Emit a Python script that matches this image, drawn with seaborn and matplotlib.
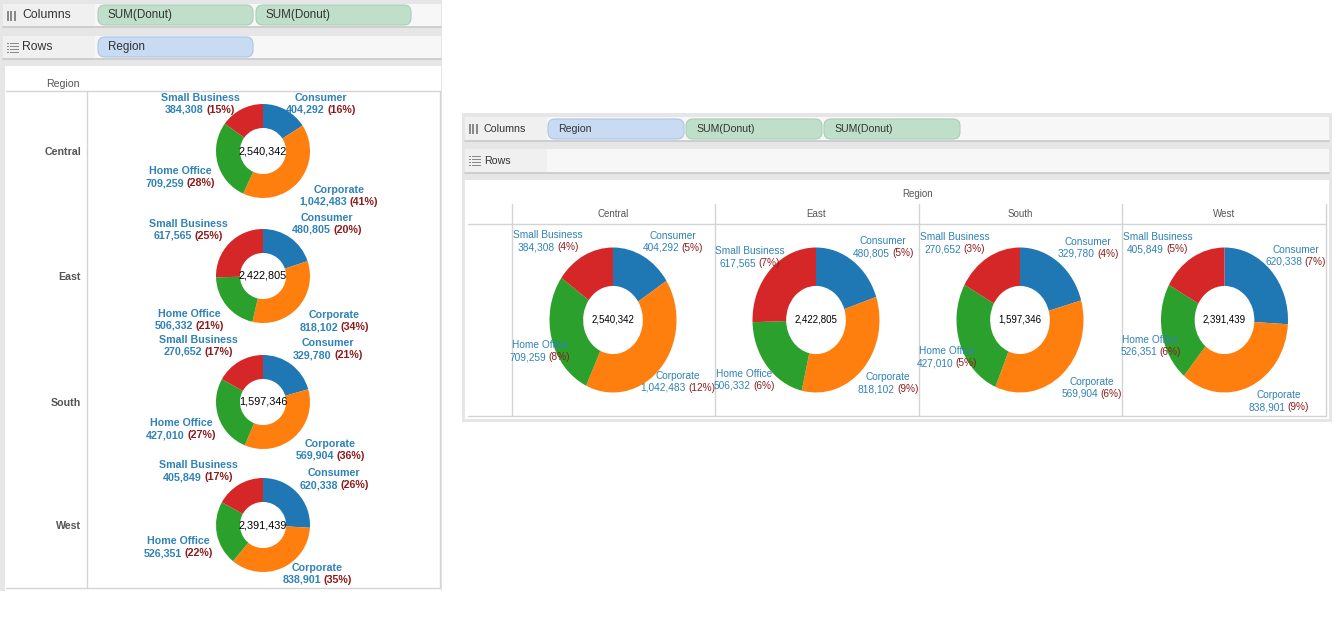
import numpy as np
import pandas as pd
import seaborn as sns
import matplotlib.pyplot as plt
from matplotlib.patches import Rectangle, FancyBboxPatch

# Data ---------------------------------------------------------------------
regions = ["Central", "East", "South", "West"]
segments = ["Consumer", "Corporate", "Home Office", "Small Business"]
consumer = [404292, 480805, 329780, 620338]
corporate = [1042483, 818102, 569904, 838901]
home_office = [709259, 506332, 427010, 526351]
small_business = [384308, 617565, 270652, 405849]
# region totals as shown in the donut holes
region_totals = [2540342, 2422805, 1597346, 2391439]

sales = pd.DataFrame({"Consumer": consumer, "Corporate": corporate,
                      "Home Office": home_office,
                      "Small Business": small_business}, index=regions)
region_total = pd.Series(region_totals, index=regions)
grand_total = region_total.sum()
pct_region = sales.div(region_total, axis=0) * 100   # left view (% of region)
pct_grand = sales / grand_total * 100                # right view (% of total)

# Layout (pixels) ------------------------------------------------------------
W, H = 1341, 619
# label block offsets from donut centre, order = segments
left_offsets = {
    "Central": [(58, -47), (76, 45), (-83, 26), (-63, -47)],
    "East": [(64, -52), (71, 45), (-74, 44), (-75, -46)],
    "South": [(65, -53), (67, 48), (-82, 27), (-65, -56)],
    "West": [(71, -46), (54, 49), (-85, 22), (-65, -54)],
}
right_offsets = {
    "Central": [(60, -78), (65, 62), (-73, 31), (-65, -79)],
    "East": [(67, -73), (72, 63), (-72, 60), (-66, -63)],
    "South": [(68, -72), (72, 68), (-73, 37), (-65, -77)],
    "West": [(71, -64), (54, 81), (-74, 26), (-67, -77)],
}
left_cy = [151, 276, 402, 525]
right_cx = [613, 816, 1020, 1224.5]

# Style ------------------------------------------------------------------------
sns.set_theme(style="white")
plt.rcParams['font.family'] = ['Liberation Sans', 'DejaVu Sans']
colors = sns.color_palette("tab10", 4)
lab_blue = "#2f82b6"
lab_red = "#8e1b1b"
grid_c = "#d4d4d4"
frame_c = "#e6e6e6"

fig = plt.figure(figsize=(W / 100, H / 100), dpi=100)
fig.patch.set_facecolor("white")


def pixel_axes(z):
    a = fig.add_axes([0, 0, 1, 1], zorder=z)
    a.set_xlim(0, W)
    a.set_ylim(H, 0)
    a.axis("off")
    a.patch.set_alpha(0)
    return a


bg = pixel_axes(0)
top = pixel_axes(5)


def rect(x0, y0, x1, y1, c):
    bg.add_patch(Rectangle((x0, y0), x1 - x0, y1 - y0, fc=c, ec="none"))


def hline(y, x0, x1):
    bg.plot([x0, x1], [y, y], color=grid_c, lw=1)


def vline(x, y0, y1):
    bg.plot([x, x], [y0, y1], color=grid_c, lw=1)


def pill(x0, x1, y0, y1, text, kind, fs):
    fc, ec = ("#c0dfcb", "#a9cfb6") if kind == "g" else ("#c9daf3", "#adc5e8")
    bg.add_patch(FancyBboxPatch((x0, y0), x1 - x0, y1 - y0,
                                boxstyle="round,pad=0,rounding_size=7",
                                fc=fc, ec=ec, lw=0.8))
    bg.text(x0 + 10, (y0 + y1) / 2, text, fontsize=fs, color="#333333",
            va="center", ha="left")


def shelf(x0, x1, y0, y1, lab_w, label, icon, fs):
    rect(x0, y0, x1, y1, "#f7f7f7")
    rect(x0, y0, x0 + lab_w, y1, "#f0f0f0")
    bg.plot([x0, x1], [y1, y1], color="#c9c9c9", lw=1.2)
    yc = (y0 + y1) / 2
    ix = x0 + 4
    if icon == "cols":
        for k in range(3):
            rect(ix + k * 3.5, yc - 5, ix + k * 3.5 + 2, yc + 5, "#8a8a8a")
    else:
        for k in range(4):
            rect(ix, yc - 5 + k * 3, ix + 2, yc - 4 + k * 3, "#8a8a8a")
            rect(ix + 3, yc - 5 + k * 3, ix + 12, yc - 4 + k * 3, "#8a8a8a")
    bg.text(x0 + 19, yc, label, fontsize=fs, color="#333333",
            va="center", ha="left")


def two_tone(x, y, a, b, fs, weight):
    r = fig.canvas.get_renderer()
    t1 = top.text(x, y, a, color=lab_blue, fontsize=fs, fontweight=weight,
                  ha="left", va="center")
    t2 = top.text(x, y, b, color=lab_red, fontsize=fs, fontweight=weight,
                  ha="left", va="center")
    w1 = t1.get_window_extent(r).width
    w2 = t2.get_window_extent(r).width
    gap = 2.5
    start = x - (w1 + gap + w2) / 2
    t1.set_x(start)
    t2.set_x(start + w1 + gap)


def donut(cx, cy, rx, ry, vals, hole_w, total, fs_total):
    ax = fig.add_axes([(cx - rx) / W, 1 - (cy + ry) / H, 2 * rx / W, 2 * ry / H],
                      zorder=2)
    ax.pie(vals, colors=colors, startangle=90, counterclock=False, radius=1,
           wedgeprops=dict(width=hole_w, edgecolor="none"))
    ax.set_aspect("auto")
    ax.set_xlim(-1, 1)
    ax.set_ylim(-1, 1)
    ax.axis("off")
    top.text(cx, cy, f"{total:,.0f}", fontsize=fs_total, color="black",
             ha="center", va="center")


# Left view: Region on rows -------------------------------------------------
rect(0, 0, 442, 591, frame_c)
shelf(3, 441, 4, 27, 92, "Columns", "cols", 8.8)
pill(98, 253, 5, 25, "SUM(Donut)", "g", 8.4)
pill(256, 411, 5, 25, "SUM(Donut)", "g", 8.4)
shelf(3, 441, 36, 59, 92, "Rows", "rows", 8.8)
pill(98, 253, 37, 57, "Region", "b", 8.4)
rect(5, 66, 441, 591, "white")
hline(91, 6, 440)
hline(588, 6, 440)
vline(87, 91, 588)
vline(440, 91, 588)
bg.text(63, 84, "Region", fontsize=7.6, color="#555555", ha="center", va="center")

for i, reg in enumerate(regions):
    cy = left_cy[i]
    bg.text(81, cy + 1, reg, fontsize=7.7, fontweight="bold", color="#555555",
            ha="right", va="center")
    donut(263, cy, 47, 47, sales.loc[reg].values, 0.51, region_total[reg], 7.8)
    for j, seg in enumerate(segments):
        dx, dy = left_offsets[reg][j]
        top.text(263 + dx, cy + dy - 6, seg, color=lab_blue, fontsize=7.7,
                 fontweight="bold", ha="center", va="center")
        two_tone(263 + dx, cy + dy + 6, f"{sales.loc[reg, seg]:,}",
                 f"({pct_region.loc[reg, seg]:.0f}%)", 7.7, "bold")

# Right view: Region on columns ----------------------------------------------
rect(462, 113, 1332, 422, frame_c)
shelf(465, 1329, 117, 141, 82, "Columns", "cols", 7.7)
pill(548, 684, 119, 139, "Region", "b", 7.6)
pill(686, 822, 119, 139, "SUM(Donut)", "g", 7.6)
pill(824, 960, 119, 139, "SUM(Donut)", "g", 7.6)
shelf(465, 1329, 149, 173, 82, "Rows", "rows", 7.7)
rect(465, 180, 1329, 419, "white")
bg.text(918, 194, "Region", fontsize=7.0, color="#555555", ha="center", va="center")
for x in [512, 715, 919, 1122, 1326]:
    vline(x, 204, 416)
hline(224, 468, 1326)
hline(416, 468, 1326)

for i, reg in enumerate(regions):
    cx = right_cx[i]
    bg.text(cx, 214, reg, fontsize=7.0, color="#555555", ha="center", va="center")
    donut(cx, 320, 63.5, 72.5, sales.loc[reg].values, 0.53, region_total[reg], 7.0)
    for j, seg in enumerate(segments):
        dx, dy = right_offsets[reg][j]
        top.text(cx + dx, 320 + dy - 6, seg, color=lab_blue, fontsize=7.3,
                 ha="center", va="center")
        two_tone(cx + dx, 320 + dy + 6, f"{sales.loc[reg, seg]:,}",
                 f"({pct_grand.loc[reg, seg]:.0f}%)", 7.3, "normal")

fig.savefig("out.png", dpi=100, facecolor="white")
